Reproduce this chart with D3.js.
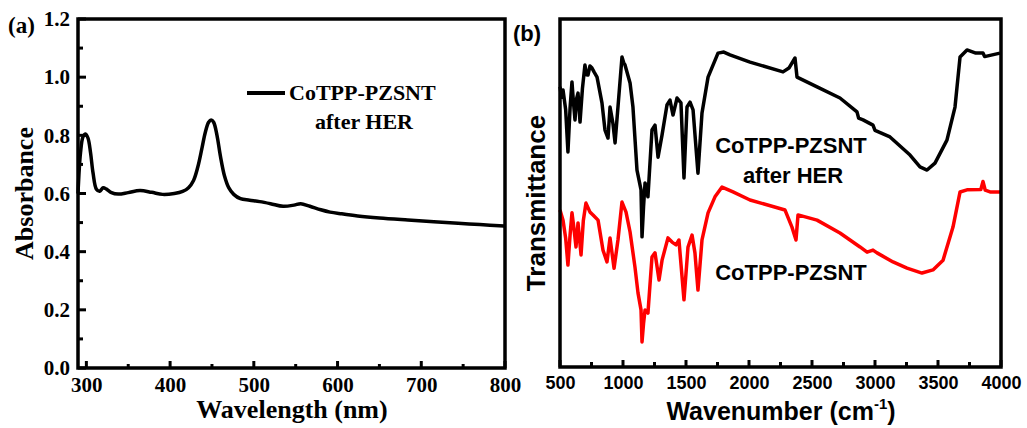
<!DOCTYPE html>
<html>
<head>
<meta charset="utf-8">
<script src="https://cdn.jsdelivr.net/npm/d3@7"></script>
<style>
  body { margin: 0; background: #fff; }
  svg { display: block; }
  .serif text { font-family: "Liberation Serif", "Times New Roman", serif; font-weight: bold; }
  .sans text { font-family: "Liberation Sans", Arial, sans-serif; font-weight: bold; }
  line.tick-mark { stroke: #000; stroke-width: 3px; }
</style>
</head>
<body>
<svg id="fig" width="1027" height="428"></svg>
<script>
// (a) UV-vis, CoTPP-PZSNT after HER
const uvWavelength = [290, 293, 296, 299, 302, 305, 308, 312, 316, 320, 324, 330, 338, 350, 364, 378, 391, 405, 415, 422, 428, 433, 438, 442, 446, 449, 452, 456, 460, 465, 470, 476, 484, 495, 507, 520, 535, 548, 556, 567, 580, 591, 605, 624, 650, 684, 715, 744, 770, 799];
const uvAbsorbance = [0.6, 0.74, 0.795, 0.805, 0.79, 0.74, 0.67, 0.615, 0.608, 0.62, 0.615, 0.603, 0.598, 0.603, 0.61, 0.604, 0.597, 0.6, 0.607, 0.62, 0.645, 0.69, 0.755, 0.81, 0.845, 0.853, 0.845, 0.8, 0.73, 0.66, 0.62, 0.597, 0.582, 0.577, 0.572, 0.565, 0.556, 0.56, 0.565, 0.556, 0.544, 0.536, 0.53, 0.523, 0.516, 0.509, 0.503, 0.498, 0.493, 0.488];

// (b) FT-IR, after HER (black)
const irAfterWn = [500, 512, 524, 545, 563, 580, 595, 607, 619, 631, 643, 659, 678, 698, 710, 722, 738, 754, 770, 794, 833, 857, 881, 897, 920, 937, 960, 992, 1005, 1016, 1056, 1079, 1111, 1143, 1151, 1163, 1175, 1198, 1230, 1254, 1278, 1310, 1349, 1373, 1397, 1429, 1460, 1484, 1508, 1532, 1556, 1595, 1627, 1675, 1754, 1800, 1849, 2008, 2270, 2317, 2365, 2381, 2540, 2722, 2857, 2870, 2905, 2984, 3000, 3119, 3278, 3357, 3413, 3476, 3571, 3635, 3675, 3730, 3800, 3857, 3870, 3992];
const irAfterT = [80.5, 77.5, 79.6, 73.9, 61.8, 74.5, 81.9, 76.0, 71.0, 77.0, 78.7, 70.4, 80.0, 86.8, 84.0, 83.9, 86.5, 85.9, 84.8, 83.3, 75.9, 68.1, 65.8, 74.7, 70.0, 64.4, 74.7, 89.1, 87.5, 86.8, 81.6, 74.7, 56.6, 50.9, 37.4, 46.0, 52.9, 48.9, 68.1, 69.5, 60.3, 66.7, 75.3, 76.7, 72.4, 77.3, 75.9, 54.3, 74.7, 76.1, 73.9, 55.7, 73.0, 83.3, 90.2, 90.5, 89.7, 87.6, 84.8, 85.9, 88.8, 83.3, 80.5, 77.3, 73.3, 71.5, 71.0, 69.5, 68.0, 66.1, 60.9, 57.5, 56.6, 58.6, 65.2, 74.7, 89.1, 91.1, 90.2, 90.2, 89.2, 90.2];

// (b) FT-IR, CoTPP-PZSNT (red)
const irFreshWn = [500, 524, 545, 563, 580, 595, 610, 627, 643, 667, 685, 706, 738, 762, 802, 841, 873, 897, 929, 960, 992, 1024, 1056, 1095, 1119, 1143, 1151, 1163, 1175, 1198, 1230, 1254, 1286, 1310, 1357, 1389, 1421, 1444, 1484, 1516, 1548, 1571, 1595, 1627, 1675, 1730, 1786, 1873, 2008, 2286, 2341, 2373, 2389, 2540, 2722, 2881, 2937, 2984, 3016, 3143, 3254, 3373, 3460, 3540, 3619, 3675, 3730, 3840, 3857, 3875, 3913, 3992];
const irFreshT = [45.1, 42.2, 37.0, 29.3, 38.0, 44.3, 40.0, 34.5, 41.4, 32.2, 42.0, 47.1, 44.5, 43.7, 42.2, 33.6, 30.2, 37.1, 28.4, 36.5, 47.4, 44.5, 38.8, 28.7, 21.3, 16.4, 7.2, 12.5, 16.4, 15.5, 31.6, 32.8, 25.0, 30.7, 37.1, 35.9, 35.1, 36.5, 19.3, 34.5, 37.9, 32.8, 22.1, 36.5, 44.3, 48.9, 51.7, 50.3, 48.0, 45.1, 40.2, 36.5, 43.7, 42.2, 38.5, 34.5, 33.0, 33.6, 32.8, 30.2, 28.4, 27.0, 27.9, 30.7, 40.2, 50.3, 50.9, 51.0, 53.3, 50.8, 50.3, 50.3];

const uvTicks = [300, 400, 500, 600, 700, 800];
const uvMinor = [350, 450, 550, 650, 750];
const absTicks = [0.0, 0.2, 0.4, 0.6, 0.8, 1.0, 1.2];
const absMinor = [0.1, 0.3, 0.5, 0.7, 0.9, 1.1];
const irTicks = [500, 1000, 1500, 2000, 2500, 3000, 3500, 4000];
const irMinor = [750, 1250, 1750, 2250, 2750, 3250, 3750];

const svg = d3.select("#fig");

function frame(g, x, y) {
    g.append("rect")
        .attr("x", x.range()[0])
        .attr("y", y.range()[1])
        .attr("width", x.range()[1] - x.range()[0])
        .attr("height", y.range()[0] - y.range()[1])
        .attr("fill", "none")
        .attr("stroke", "black")
        .attr("stroke-width", 3.5);
}

// inward tick marks on bottom edge
function xTickMarks(g, x, y0, values, len) {
    g.append("g").selectAll("line")
        .data(values)
        .join("line")
        .attr("class", "tick-mark")
        .attr("x1", d => x(d)).attr("x2", d => x(d))
        .attr("y1", y0).attr("y2", y0 - len);
}

// inward tick marks on left edge
function yTickMarks(g, y, x0, values, len) {
    g.append("g").selectAll("line")
        .data(values)
        .join("line")
        .attr("class", "tick-mark")
        .attr("y1", d => y(d)).attr("y2", d => y(d))
        .attr("x1", x0).attr("x2", x0 + len);
}

// ---------- panel (a) ----------
const ga = svg.append("g").attr("class", "serif");
const xa = d3.scaleLinear().domain([290, 800]).range([78, 505]);
const ya = d3.scaleLinear().domain([0, 1.2]).range([368, 19]);

const xaAxis = ga.append("g")
    .attr("transform", `translate(0,${ya(0)})`)
    .call(d3.axisBottom(xa).tickValues(uvTicks).tickFormat(d3.format("d")).tickSize(0).tickPadding(8));
xaAxis.select(".domain").remove();
xaAxis.selectAll("text").attr("font-size", 21).attr("fill", "black").attr("dy", "0.75em");

const yaAxis = ga.append("g")
    .attr("transform", `translate(${xa(290)},0)`)
    .call(d3.axisLeft(ya).tickValues(absTicks).tickFormat(d3.format(".1f")).tickSize(0).tickPadding(8));
yaAxis.select(".domain").remove();
yaAxis.selectAll("text").attr("font-size", 21).attr("fill", "black");

ga.append("path")
    .datum(uvWavelength.map((w, i) => [w, uvAbsorbance[i]]))
    .attr("fill", "none")
    .attr("stroke", "black")
    .attr("stroke-width", 3.5)
    .attr("stroke-linejoin", "round")
    .attr("d", d3.line().x(d => xa(d[0])).y(d => ya(d[1])).curve(d3.curveCatmullRom));

frame(ga, xa, ya);

xTickMarks(ga, xa, ya(0), uvTicks, 7);
xTickMarks(ga, xa, ya(0), uvMinor, 4);
yTickMarks(ga, ya, xa(290), absTicks, 8);
yTickMarks(ga, ya, xa(290), absMinor, 5);

ga.append("line")
    .attr("x1", 247).attr("x2", 285)
    .attr("y1", 93).attr("y2", 93)
    .attr("stroke", "black").attr("stroke-width", 4);
ga.append("text").attr("x", 289).attr("y", 100).attr("font-size", 22).text("CoTPP-PZSNT");
ga.append("text").attr("x", 364).attr("y", 129).attr("font-size", 22).attr("text-anchor", "middle").text("after HER");

ga.append("text").attr("x", 8).attr("y", 33).attr("font-size", 23).text("(a)");
ga.append("text")
    .attr("transform", `translate(33,${(ya.range()[0] + ya.range()[1]) / 2}) rotate(-90)`)
    .attr("text-anchor", "middle")
    .attr("font-size", 26)
    .text("Absorbance");
ga.append("text")
    .attr("x", 292).attr("y", 418)
    .attr("text-anchor", "middle")
    .attr("font-size", 26)
    .text("Wavelength (nm)");

// ---------- panel (b) ----------
const gb = svg.append("g").attr("class", "sans");
const xb = d3.scaleLinear().domain([500, 4000]).range([560, 1001]);
const yb = d3.scaleLinear().domain([0, 100]).range([367, 19]);

const xbAxis = gb.append("g")
    .attr("transform", `translate(0,${yb(0)})`)
    .call(d3.axisBottom(xb).tickValues(irTicks).tickFormat(d3.format("d")).tickSize(0).tickPadding(8));
xbAxis.select(".domain").remove();
xbAxis.selectAll("text").attr("font-size", 18).attr("fill", "black").attr("dy", "0.8em");

const irLine = d3.line().x(d => xb(d[0])).y(d => yb(d[1]));

gb.append("path")
    .datum(irFreshWn.map((w, i) => [w, irFreshT[i]]))
    .attr("fill", "none")
    .attr("stroke", "#ff0000")
    .attr("stroke-width", 3.5)
    .attr("stroke-linejoin", "round")
    .attr("d", irLine);

gb.append("path")
    .datum(irAfterWn.map((w, i) => [w, irAfterT[i]]))
    .attr("fill", "none")
    .attr("stroke", "black")
    .attr("stroke-width", 3.5)
    .attr("stroke-linejoin", "round")
    .attr("d", irLine);

frame(gb, xb, yb);

xTickMarks(gb, xb, yb(0), irTicks, 7);
xTickMarks(gb, xb, yb(0), irMinor, 5);

gb.append("text").attr("x", 791).attr("y", 153).attr("font-size", 22).attr("text-anchor", "middle").text("CoTPP-PZSNT");
gb.append("text").attr("x", 793).attr("y", 183).attr("font-size", 22).attr("text-anchor", "middle").text("after HER");
gb.append("text").attr("x", 791).attr("y", 280).attr("font-size", 22).attr("text-anchor", "middle").text("CoTPP-PZSNT");

gb.append("text").attr("x", 513).attr("y", 41).attr("font-size", 22).text("(b)");
gb.append("text")
    .attr("transform", `translate(545,203) rotate(-90)`)
    .attr("text-anchor", "middle")
    .attr("font-size", 26)
    .text("Transmittance");

const xbTitle = gb.append("text")
    .attr("x", 781).attr("y", 420)
    .attr("text-anchor", "middle")
    .attr("font-size", 25);
xbTitle.append("tspan").text("Wavenumber (cm");
xbTitle.append("tspan").attr("font-size", 15).attr("dy", -11).text("-1");
xbTitle.append("tspan").attr("dy", 11).text(")");
</script>
</body>
</html>
